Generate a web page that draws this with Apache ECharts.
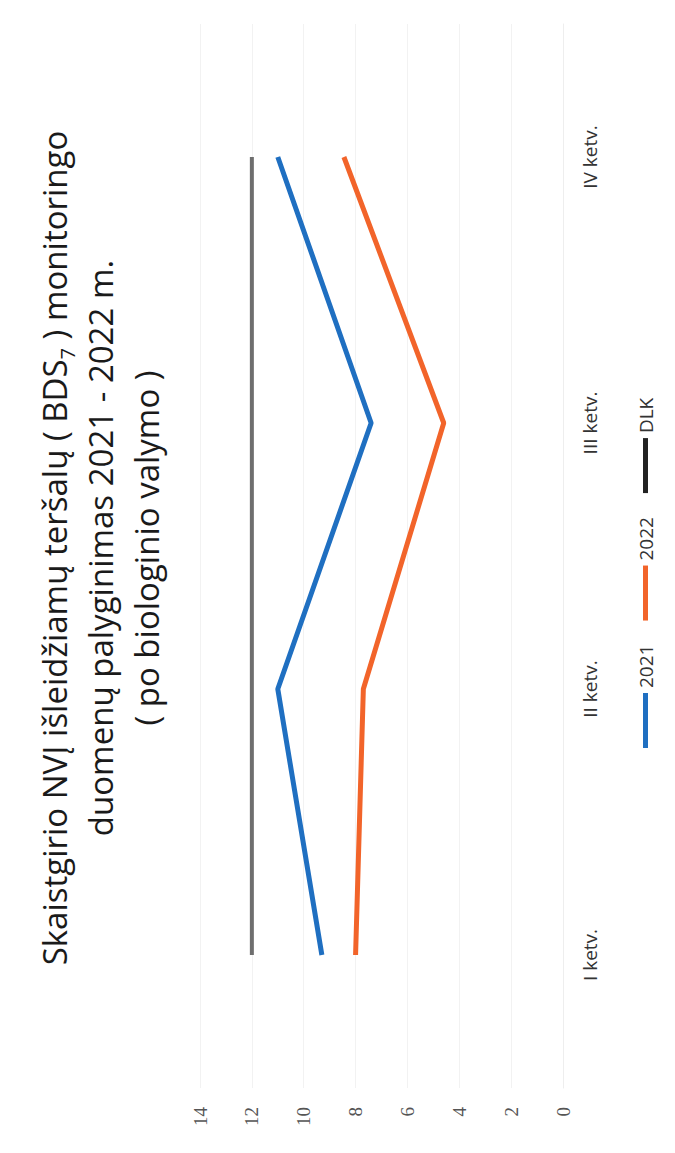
<!DOCTYPE html>
<html>
<head>
<meta charset="utf-8">
<script src="https://cdn.jsdelivr.net/npm/echarts@6/dist/echarts.min.js"></script>
<style>
html,body{margin:0;padding:0;width:675px;height:1153px;overflow:hidden;background:#fff;}
#chart{position:absolute;left:0;top:0;width:1153px;height:675px;transform-origin:0 0;transform:translate(0,1153px) rotate(-90deg);}
</style>
</head>
<body>
<div id="chart"></div>
<script>
const categories = ['I ketv.', 'II ketv.', 'III ketv.', 'IV ketv.'];
const series2021 = [9.3, 11.0, 7.4, 11.0];
const series2022 = [8.0, 7.7, 4.6, 8.45];
const seriesDLK = [12, 12, 12, 12];
const valueTicks = [0, 2, 4, 6, 8, 10, 12, 14];

const FONT = '"Open Sans", "Noto Sans", sans-serif';
const chart = echarts.init(document.getElementById('chart'), null, {renderer: 'svg'});
chart.setOption({
  backgroundColor: '#ffffff',
  animation: false,
  title: {
    text: 'Skaistgirio NVĮ išleidžiamų teršalų ( BDS{sub|7} ) monitoringo\nduomenų palyginimas 2021 - 2022 m.\n( po biologinio valymo )',
    left: 600,
    top: 26,
    padding: 5,
    textAlign: 'center',
    textStyle: {
      fontFamily: FONT, fontSize: 33, fontWeight: 'normal', color: '#1a1a1a', lineHeight: 46,
      rich: { sub: { fontFamily: FONT, fontSize: 20, color: '#1a1a1a', lineHeight: 20, verticalAlign: 'bottom' } }
    }
  },
  legend: {
    bottom: 15,
    left: 400,
    itemWidth: 55,
    itemHeight: 5,
    itemGap: 24,
    icon: 'rect',
    textStyle: { fontFamily: FONT, fontSize: 19, color: '#333' },
    data: ['2021', '2022', 'DLK']
  },
  grid: { left: 65, right: 24, top: 200, bottom: 112 },
  xAxis: {
    type: 'category',
    data: categories,
    boundaryGap: true,
    axisLine: { show: true, lineStyle: { color: '#eeeeee' } },
    axisTick: { show: false },
    axisLabel: { fontFamily: FONT, fontSize: 19, color: '#333', margin: 17 }
  },
  yAxis: {
    type: 'value',
    min: 0, max: 14, interval: 2,
    axisLine: { show: false },
    axisTick: { show: false },
    splitLine: { lineStyle: { color: '#f2f2f2', width: 1 } },
    axisLabel: {
      fontFamily: '"Liberation Serif", serif', fontSize: 19, color: '#555', margin: 19,
      formatter: v => valueTicks.includes(v) ? String(v) : ''
    }
  },
  series: [
    { name: '2021', type: 'line', data: series2021, symbol: 'none', lineStyle: { color: '#1f6fc1', width: 5 }, itemStyle: { color: '#1f6fc1' } },
    { name: '2022', type: 'line', data: series2022, symbol: 'none', lineStyle: { color: '#f2642a', width: 5 }, itemStyle: { color: '#f2642a' } },
    { name: 'DLK', type: 'line', data: seriesDLK, symbol: 'none', lineStyle: { color: '#6e6e6e', width: 4 }, itemStyle: { color: '#222' } }
  ]
});
</script>
</body>
</html>
